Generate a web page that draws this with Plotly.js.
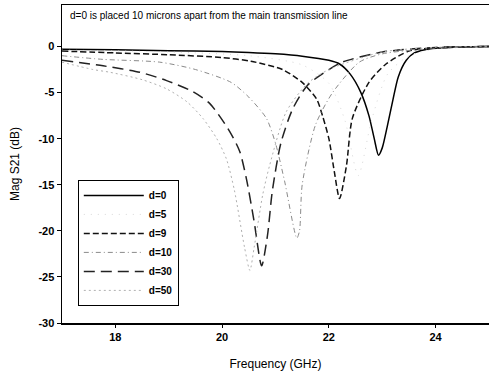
<!DOCTYPE html>
<html>
<head>
<meta charset="utf-8">
<script src="https://cdn.plot.ly/plotly-3.0.1.min.js"></script>
<style>html,body{margin:0;padding:0;background:#fff;}#chart{width:489px;height:380px;}</style>
</head>
<body>
<div id="chart"></div>
<script>
// Frequency (GHz) and Mag S21 (dB)
const freq_d0 = [17, 18, 19, 20, 20.5, 21, 21.5, 22, 22.2, 22.4, 22.6, 22.75, 22.85, 22.93, 23.0, 23.1, 23.2, 23.3, 23.45, 23.6, 23.8, 24, 24.5, 25];
const mag_d0  = [-0.3, -0.35, -0.45, -0.55, -0.65, -0.8, -1.05, -1.5, -1.9, -3.0, -5.0, -7.5, -10, -11.8, -11, -8.5, -5.8, -3.3, -1.5, -0.7, -0.35, -0.2, -0.05, 0];

const freq_d5 = [17, 19, 20.5, 21.5, 22, 22.3, 22.55, 22.8, 23.1, 23.5, 24, 25];
const mag_d5  = [-0.4, -0.6, -1.0, -2.0, -4.0, -8.0, -14, -8.0, -3.0, -1.0, -0.3, 0];

const freq_d9 = [17, 18, 19, 20, 20.54, 21.13, 21.5, 21.77, 21.88, 22.0, 22.1, 22.2, 22.33, 22.44, 22.75, 23.07, 23.5, 24, 25];
const mag_d9  = [-0.5, -0.7, -0.9, -1.2, -1.6, -2.5, -3.9, -5.7, -7.5, -10, -13.5, -16.5, -12.9, -7.8, -3.9, -1.9, -0.5, -0.15, 0];

const freq_d10 = [17, 17.77, 18.83, 19.5, 20.17, 20.5, 20.83, 21.0, 21.17, 21.4, 21.45, 21.5, 21.75, 22.07, 22.57, 23, 24, 25];
const mag_d10  = [-1.0, -1.4, -1.7, -2.5, -3.9, -5.5, -7.8, -10.5, -14.6, -20.8, -20, -15, -8.5, -5.0, -1.7, -0.8, -0.2, 0];

const freq_d30 = [17, 17.77, 18.46, 18.96, 19.45, 19.77, 20.14, 20.33, 20.46, 20.6, 20.74, 20.85, 20.94, 21.1, 21.32, 21.6, 22.0, 22.25, 23, 24, 25];
const mag_d30  = [-1.5, -2.1, -2.8, -3.7, -4.9, -6.2, -9.2, -11.4, -14.5, -19, -23.8, -20.5, -15.7, -10.5, -6.8, -4.2, -2.5, -1.7, -0.6, -0.1, 0];

const freq_d50 = [17, 17.58, 17.9, 18.5, 18.96, 19.34, 19.64, 19.9, 20.08, 20.23, 20.42, 20.52, 20.6, 20.76, 20.89, 21.2, 21.6, 22.0, 23, 24, 25];
const mag_d50  = [-1.7, -2.5, -2.8, -3.6, -4.6, -6.0, -7.8, -10, -12.2, -15.6, -21.8, -24.3, -21.8, -16.1, -12.9, -7.1, -4.0, -2.5, -0.6, -0.1, 0];

const seriesNames = ['d=0', 'd=5', 'd=9', 'd=10', 'd=30', 'd=50'];
const xTicks = [18, 20, 22, 24];
const yTicks = [0, -5, -10, -15, -20, -25, -30];

const xs = [freq_d0, freq_d5, freq_d9, freq_d10, freq_d30, freq_d50];
const ys = [mag_d0, mag_d5, mag_d9, mag_d10, mag_d30, mag_d50];
const styles = [
  {color: '#000000', width: 1.5, dash: 'solid'},
  {color: '#d8d8d8', width: 1, dash: '1px,6px'},
  {color: '#111111', width: 1.5, dash: '6px,3px'},
  {color: '#8a8a8a', width: 1, dash: '5px,3px,1px,3px'},
  {color: '#222222', width: 1.5, dash: '11px,6px'},
  {color: '#b0b0b0', width: 1, dash: '2px,3px'}
];

const traces = seriesNames.map((n, i) => ({
  x: xs[i], y: ys[i], name: n, type: 'scatter', mode: 'lines',
  line: Object.assign({shape: 'spline', smoothing: 0.7}, styles[i])
}));

const axisFont = {family: 'Arial, Liberation Sans, sans-serif', size: 11, color: '#000', weight: 'bold'};

const layout = {
  width: 489, height: 380,
  margin: {l: 62, r: 0, t: 5, b: 57},
  paper_bgcolor: '#fff', plot_bgcolor: '#fff',
  showlegend: true,
  legend: {
    x: 0.037, y: 0.45, xanchor: 'left', yanchor: 'top',
    bgcolor: '#fff', bordercolor: '#000', borderwidth: 1,
    font: {family: 'Arial, Liberation Sans, sans-serif', size: 10, color: '#000', weight: 'bold'},
    itemwidth: 60, tracegroupgap: 0, entrywidth: 80
  },
  xaxis: {
    range: [17, 25], tickvals: xTicks, ticktext: xTicks.map(String),
    showgrid: false, zeroline: false, showline: true, mirror: true,
    linecolor: '#000', linewidth: 1.5, ticks: 'outside', ticklen: 3, tickcolor: '#000',
    tickfont: axisFont,
    title: {text: 'Frequency (GHz)', font: {family: 'Arial, Liberation Sans, sans-serif', size: 12, color: '#000'}, standoff: 18}
  },
  yaxis: {
    range: [-30, 4.5], tickvals: yTicks, ticktext: yTicks.map(String),
    showgrid: false, zeroline: false, showline: true, mirror: true,
    linecolor: '#000', linewidth: 1.5, ticks: 'outside', ticklen: 4, tickcolor: '#000',
    tickfont: axisFont,
    title: {text: 'Mag S21 (dB)', font: {family: 'Arial, Liberation Sans, sans-serif', size: 12, color: '#000'}, standoff: 16}
  },
  annotations: [{
    xref: 'paper', yref: 'paper', x: 0.015, y: 0.968, xanchor: 'left', yanchor: 'middle',
    text: 'd=0 is placed 10 microns apart from the main transmission line',
    showarrow: false,
    font: {family: 'Arial, Liberation Sans, sans-serif', size: 10, color: '#000'}
  }]
};

Plotly.newPlot('chart', traces, layout, {staticPlot: true, displayModeBar: false});
</script>
</body>
</html>
